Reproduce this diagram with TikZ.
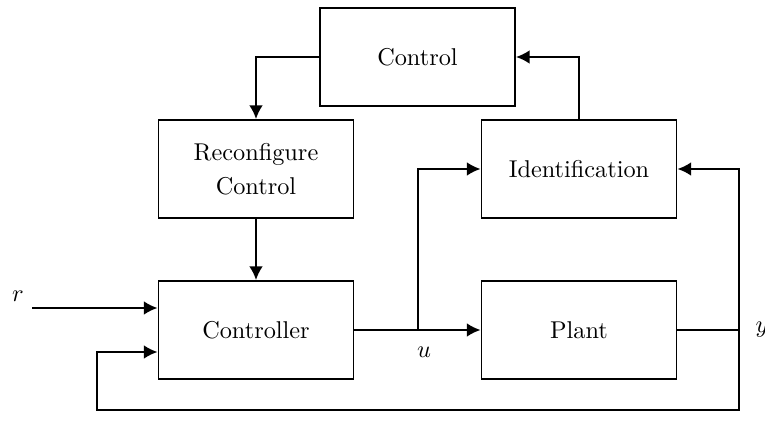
\documentclass[tikz,border=0pt]{standalone}
\usepackage{tikz}
\usetikzlibrary{arrows.meta}

\newdimen\pxu
\pxu=0.4115pt
\tikzset{
  block/.style={draw, thick, minimum width=195\pxu, minimum height=98\pxu, align=center, inner sep=0pt},
  sig/.style={thick, -{Latex[length=5.6pt,width=5.6pt]}},
  wire/.style={thick}
}

\begin{document}
\begin{tikzpicture}[x=0.4115pt, y=-0.4115pt]
  % Fix the frame of the picture
  \useasboundingbox (0,0) rectangle (765,445);

  % Place the blocks
  \node[block] (ctrl) at (417.5,57) {Control};
  \node[block] (reconf) at (256,169) {Reconfigure\\[2pt]Control};
  \node[block] (ident) at (579,169) {Identification};
  \node[block] (controller) at (256,330) {Controller};
  \node[block] (plant) at (579,330) {Plant};

  % Helper points for the wires
  \coordinate (rin) at (32,308);
  \coordinate (branch) at (418,330);
  \coordinate (yout) at (739,330);
  \coordinate (loopR) at (739,410);
  \coordinate (loopL) at (97,410);
  \coordinate (fbin) at (97,352);

  % Draw the connections
  \draw[sig] (ctrl.west) -| (reconf.north);
  \draw[sig] (ident.north) |- (ctrl.east);
  \draw[sig] (reconf.south) -- (controller.north);
  \draw[sig] (rin) -- (rin -| controller.west);
  \draw[sig] (controller.east) -- (plant.west);
  \draw[sig] (branch) |- (ident.west);
  \draw[wire] (plant.east) -- (yout);
  \draw[sig] (yout) |- (ident.east);
  \draw[sig] (yout) -- (loopR) -- (loopL) -- (fbin) -- (fbin -| controller.west);

  % Signal labels
  \node (rlab) at (18,296) {$r$};
  \node (ulab) at (424,352) {$u$};
  \node (ylab) at (762,330) {$y$};
\end{tikzpicture}
\end{document}
